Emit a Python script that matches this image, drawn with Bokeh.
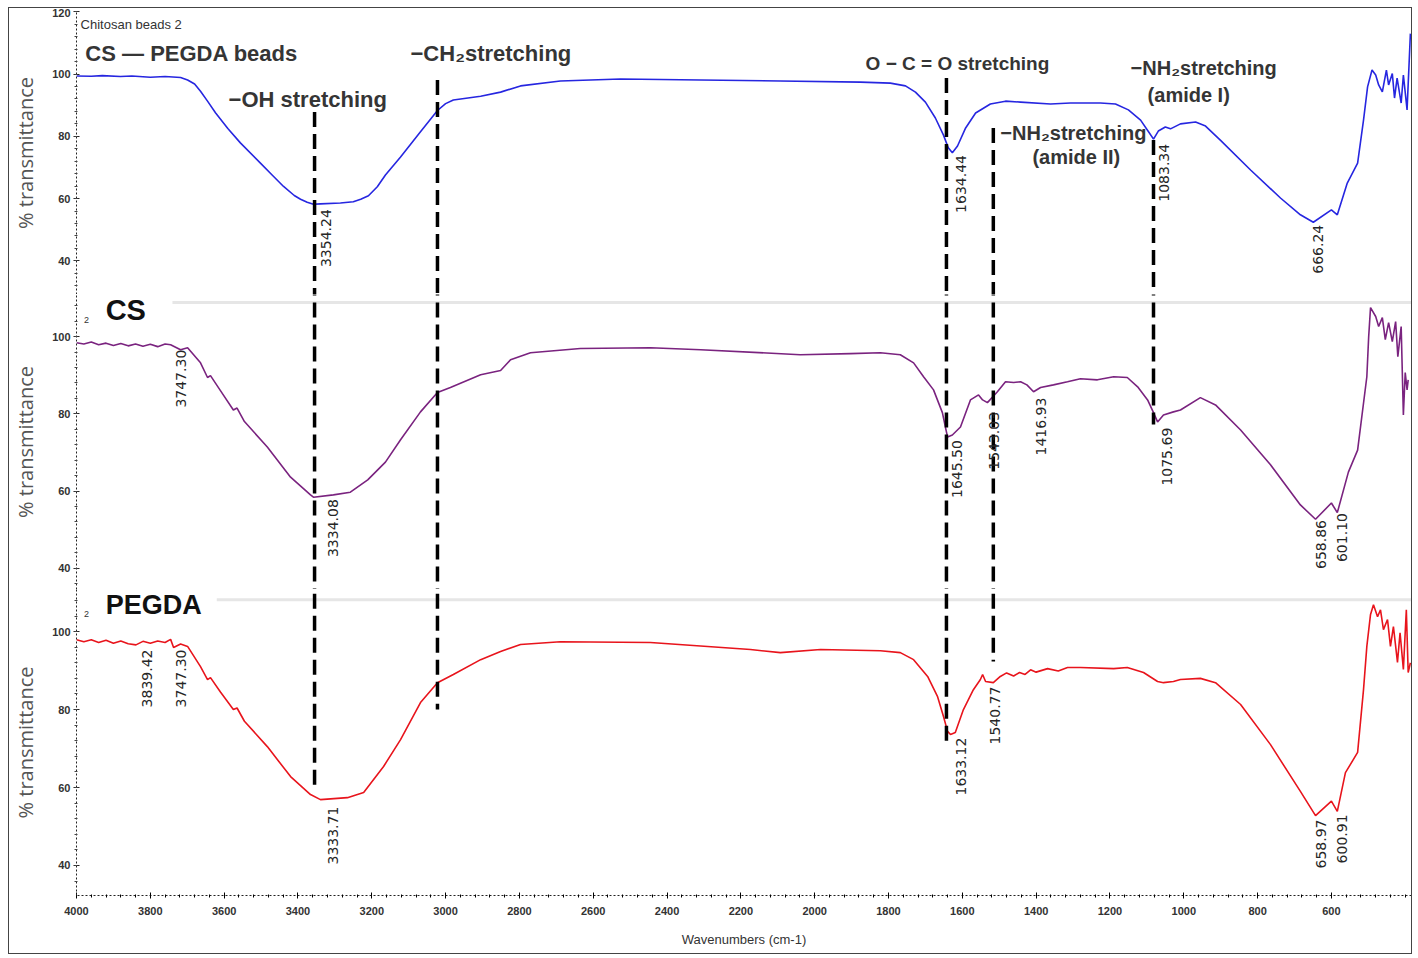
import numpy as np
from bokeh.plotting import figure
from bokeh.models import Range1d, FixedTicker, Label, ColumnDataSource
from bokeh.layouts import column
from bokeh.embed import file_html
from bokeh.resources import INLINE
from bokeh.core.properties import value

# ---------------- data ----------------
# CS - PEGDA beads (top, blue)
cs_pegda_wn = [4000, 3960, 3930, 3881, 3850, 3800, 3760, 3718, 3699, 3680, 3664, 3645, 3623, 3590, 3556,
               3501, 3470, 3439, 3410, 3393, 3375, 3358, 3339, 3285, 3250, 3230, 3209, 3185, 3163, 3122,
               3068, 3022, 3000, 2979, 2905, 2851, 2797, 2689, 2526, 2309, 2093, 1876, 1795, 1754, 1727,
               1700, 1673, 1651, 1638, 1627, 1613, 1591, 1564, 1524, 1483, 1442, 1361, 1307, 1226, 1185,
               1150, 1117, 1095, 1082, 1069, 1050, 1036, 1009, 968, 941, 901, 819, 738, 684, 649,
               600, 584, 557, 529, 513, 502, 490, 480, 472, 462, 451, 445, 435, 429, 422,
               411, 405, 395, 386]
cs_pegda_t = [99.4, 99.3, 99.5, 99.2, 99.4, 99.0, 99.2, 98.9, 98.1, 96.8, 94.5, 91.3, 87.5, 82.5, 77.9,
              71.3, 67.6, 63.9, 61.0, 59.8, 58.8, 58.2, 58.3, 58.6, 59.0, 59.8, 60.9, 63.8, 67.6, 73.4,
              81.5, 88.3, 90.5, 91.7, 92.9, 94.2, 96.2, 97.8, 98.4, 98.1, 97.8, 97.4, 97.1, 96.2, 94.2,
              91.0, 85.9, 80.4, 76.3, 74.7, 76.9, 82.7, 87.5, 90.4, 91.3, 91.0, 90.4, 90.7, 90.7, 90.4,
              88.5, 85.2, 81.4, 79.1, 81.7, 83.0, 82.4, 84.0, 84.6, 83.3, 78.8, 69.2, 60.2, 54.8, 52.4,
              56.4, 54.8, 65.0, 71.4, 85.2, 95.9, 101.3, 99.7, 96.5, 94.3, 101.3, 96.5, 100.2, 92.3, 98.7,
              90.7, 99.7, 88.5, 113.0]

# CS (middle, purple)
cs_wn = [4000, 3980, 3960, 3940, 3920, 3900, 3880, 3860, 3840, 3820, 3800, 3780, 3760, 3745, 3718,
         3699, 3664, 3645, 3637, 3610, 3575, 3565, 3545, 3483, 3420, 3366, 3358, 3304, 3258, 3211,
         3163, 3122, 3068, 3022, 2987, 2905, 2851, 2824, 2770, 2635, 2445, 2309, 2039, 1903, 1822,
         1768, 1732, 1705, 1678, 1654, 1646, 1640, 1627, 1605, 1578, 1556, 1545, 1532, 1505, 1483,
         1461, 1442, 1425, 1407, 1388, 1353, 1315, 1280, 1234, 1190, 1153, 1125, 1098, 1082, 1071,
         1055, 1028, 1009, 955, 914, 846, 765, 684, 643, 600, 584, 554, 529, 504, 499,
         494, 480, 472, 462, 454, 445, 435, 426, 420, 411, 405, 400, 395, 392]
cs_t = [98.4, 98.1, 98.6, 97.9, 98.3, 97.7, 98.2, 97.6, 98.1, 97.5, 98.0, 97.4, 98.1, 97.9, 96.6,
        97.1, 93.2, 89.4, 89.9, 86.0, 81.0, 81.5, 78.0, 71.4, 63.6, 59.0, 58.4, 59.0, 59.7, 62.9,
        67.5, 73.3, 80.5, 85.5, 86.8, 90.1, 91.2, 94.0, 95.8, 96.9, 97.1, 96.6, 95.3, 95.6, 95.8,
        95.3, 93.2, 89.6, 86.2, 80.3, 76.6, 74.0, 74.5, 76.6, 83.6, 84.9, 83.6, 82.9, 85.7, 88.3,
        88.1, 88.3, 87.5, 85.7, 86.8, 87.5, 88.3, 89.1, 88.8, 89.6, 89.4, 87.0, 83.6, 80.3, 77.9,
        79.7, 80.5, 81.0, 84.2, 82.3, 75.8, 66.8, 56.4, 52.7, 56.9, 54.4, 64.9, 70.6, 89.6, 100.0,
        107.5, 105.2, 102.6, 104.9, 99.2, 103.6, 98.7, 103.9, 94.8, 102.6, 79.7, 90.7, 86.2, 88.8]

# PEGDA (bottom, red)
pegda_wn = [4000, 3980, 3960, 3940, 3920, 3900, 3880, 3860, 3839, 3820, 3800, 3780, 3760, 3745, 3737,
            3718, 3699, 3664, 3645, 3637, 3610, 3575, 3565, 3545, 3483, 3420, 3366, 3339, 3266, 3222,
            3168, 3122, 3068, 3022, 2979, 2905, 2851, 2797, 2689, 2445, 2174, 2093, 1984, 1822, 1768,
            1732, 1694, 1667, 1651, 1640, 1632, 1619, 1597, 1570, 1551, 1545, 1537, 1516, 1497, 1480,
            1461, 1445, 1430, 1415, 1400, 1369, 1340, 1315, 1280, 1190, 1153, 1109, 1071, 1055, 1028,
            1009, 955, 914, 846, 765, 684, 643, 600, 584, 562, 529, 513, 504, 494, 486,
            475, 467, 459, 448, 440, 432, 421, 414, 405, 397, 392, 386]
pegda_t = [97.9, 97.4, 97.9, 97.2, 97.8, 97.0, 97.6, 96.9, 96.6, 97.5, 97.0, 97.6, 97.2, 98.0, 95.9,
           96.8, 96.2, 91.0, 87.7, 88.2, 84.5, 80.0, 80.4, 77.0, 70.5, 62.8, 58.2, 56.9, 57.4, 58.7,
           65.4, 72.3, 81.8, 86.9, 89.0, 92.8, 94.9, 96.7, 97.4, 97.2, 95.4, 94.6, 95.4, 95.1, 94.6,
           92.8, 88.5, 83.3, 78.2, 74.4, 73.6, 74.1, 80.0, 85.1, 87.7, 89.0, 87.2, 86.9, 88.5, 89.4,
           88.6, 89.5, 89.0, 90.2, 89.6, 90.5, 89.9, 90.8, 90.8, 90.5, 90.8, 89.5, 87.2, 86.9, 87.2,
           87.7, 88.0, 86.9, 81.3, 71.0, 59.0, 52.8, 56.5, 53.9, 63.8, 69.0, 85.1, 96.2, 104.4, 106.9,
           103.8, 105.6, 100.5, 103.1, 96.2, 101.3, 92.1, 99.7, 90.3, 105.6, 89.5, 92.0]

# peak labels (text) and the transmittance at which each label starts
cs_pegda_peaks = ["3354.24", "1634.44", "1083.34", "666.24"]
cs_pegda_peak_t = [56.6, 74.0, 77.6, 51.6]
cs_peaks = ["3747.30", "3334.08", "1645.50", "1543.03", "1416.93", "1075.69", "658.86", "601.10"]
cs_peak_t = [96.6, 57.9, 73.2, 80.5, 84.2, 76.4, 52.5, 54.3]
pegda_peaks = ["3839.42", "3747.30", "3333.71", "1633.12", "1540.77", "658.97", "600.91"]
pegda_peak_t = [95.4, 95.4, 55.1, 72.8, 85.9, 51.8, 53.1]

# assignment markers (dashed lines)
band_wn = [3355, 3022, 1643, 1516, 1082]
band_start_top = [87.8, 98.1, 98.7, 82.7, 78.8]
band_end_mid = [0, 0, 0, 0, 77.2]
band_end_bottom = [59.5, 80.0, 72.0, 92.3]

# annotations of the top panel
annot_text = ["CS \u2014 PEGDA beads", "\u2212OH stretching", "\u2212CH\u2082stretching",
              "O \u2212 C = O stretching", "\u2212NH\u2082stretching", "(amide I)",
              "\u2212NH\u2082stretching", "(amide II)"]
annot_wn = [3976, 3588, 3095, 1862, 1144, 1098, 1497, 1410]
annot_t = [106.7, 91.7, 106.7, 103.5, 101.9, 93.3, 81.1, 73.4]
annot_size = ["22px", "22px", "22px", "19px", "20px", "20px", "20px", "20px"]

x_ticks = list(range(600, 4001, 200))
y_ticks = [40, 60, 80, 100, 120]

COLORS = ["#2626e0", "#7a237f", "#e8141c"]
TXT = "#353535"
NARROW = "Liberation Sans Narrow, Liberation Sans, sans-serif"

xr = Range1d(4000, 383)


def panel(height, yr, top_border, bottom_border, show_x):
    p = figure(width=1402, height=height, x_range=xr, y_range=yr,
               output_backend="svg", toolbar_location=None,
               min_border_left=67, min_border_right=0,
               min_border_top=top_border, min_border_bottom=bottom_border,
               x_axis_location="below" if show_x else None,
               outline_line_color=None, background_fill_color="white",
               border_fill_color="white")
    p.xgrid.visible = False
    p.ygrid.visible = False
    ax = p.yaxis[0]
    ax.ticker = FixedTicker(ticks=y_ticks, minor_ticks=list(range(28, 121, 4)))
    ax.axis_label = "% transmittance"
    ax.axis_label_text_font = "Open Sans"
    ax.axis_label_text_font_size = "20px"
    ax.axis_label_text_font_style = "normal"
    ax.axis_label_text_color = "#555555"
    ax.axis_label_standoff = 10
    ax.major_label_text_font = NARROW
    ax.major_label_text_font_size = "11px"
    ax.major_label_text_font_style = "bold"
    ax.major_label_text_color = "#333333"
    ax.major_label_standoff = 3
    ax.major_tick_in = 3
    ax.major_tick_out = 3
    ax.minor_tick_in = 1
    ax.minor_tick_out = 2
    ax.axis_line_dash = "2 2"
    ax.axis_line_color = "#222222"
    ax.major_tick_line_color = "#222222"
    ax.minor_tick_line_color = "#444444"
    if show_x:
        xa = p.xaxis[0]
        xa.ticker = FixedTicker(ticks=x_ticks, minor_ticks=list(range(400, 4001, 40)))
        xa.axis_label = "Wavenumbers (cm-1)"
        xa.axis_label_text_font = NARROW
        xa.axis_label_text_font_size = "13px"
        xa.axis_label_text_font_style = "normal"
        xa.axis_label_text_color = "#333333"
        xa.axis_label_standoff = 14
        xa.major_label_text_font = NARROW
        xa.major_label_text_font_size = "11px"
        xa.major_label_text_font_style = "bold"
        xa.major_label_text_color = "#333333"
        xa.major_label_standoff = 8
        xa.major_tick_in = 3
        xa.major_tick_out = 3
        xa.minor_tick_in = 1
        xa.minor_tick_out = 2
        xa.axis_line_dash = "2 2"
        xa.axis_line_color = "#222222"
    return p


def peak_labels(p, labels, tvals):
    src = ColumnDataSource(dict(x=[float(s) for s in labels], y=tvals, t=labels))
    p.text(x="x", y="y", text="t", source=src, angle=np.pi / 2,
           text_align="right", text_baseline="middle", x_offset=11,
           text_font=value("DejaVu Sans"), text_font_size="14px", text_color="#262626")


def dashes(p, xs, y0s, y1s):
    p.segment(x0=xs, y0=y0s, x1=xs, y1=y1s, line_color="black",
              line_width=3.5, line_dash="15 7")


def label(p, x, y, text, size, color=TXT, font="Liberation Sans", style="bold"):
    p.add_layout(Label(x=x, y=y, text=text, text_font=font, text_font_size=size,
                       text_font_style=style, text_color=color,
                       text_baseline="middle", text_align="left"))


# ---------------- top panel ----------------
p1 = panel(286, Range1d(29.2, 120.1), 3, 0, False)
p1.line(cs_pegda_wn, cs_pegda_t, line_color=COLORS[0], line_width=1.6)
dashes(p1, band_wn, band_start_top, [0] * len(band_wn))
peak_labels(p1, cs_pegda_peaks, cs_pegda_peak_t)
label(p1, 3989, 116.0, "Chitosan beads 2", "13px", "#333333", NARROW, "normal")
for t, x, y, s in zip(annot_text, annot_wn, annot_t, annot_size):
    label(p1, x, y, t, s)

# ---------------- middle panel ----------------
p2 = panel(295, Range1d(34.5, 110.9), 0, 0, False)
p2.segment(x0=[3740], y0=[108.8], x1=[383], y1=[108.8], line_color="#e6e6e6", line_width=3)
p2.line(cs_wn, cs_t, line_color=COLORS[1], line_width=1.6)
dashes(p2, band_wn, [200] * len(band_wn), band_end_mid)
peak_labels(p2, cs_peaks, cs_peak_t)
label(p2, 3921, 106.8, "CS", "29px", "#111111")
label(p2, 3980, 104.4, "2", "9px", "#333333", "Liberation Sans", "normal")

# ---------------- bottom panel ----------------
p3 = panel(364, Range1d(32.3, 110.8), 0, 58, True)
p3.segment(x0=[3620], y0=[108.2], x1=[383], y1=[108.2], line_color="#e6e6e6", line_width=3)
p3.line(pegda_wn, pegda_t, line_color=COLORS[2], line_width=1.6)
dashes(p3, band_wn[:4], [200] * 4, band_end_bottom)
peak_labels(p3, pegda_peaks, pegda_peak_t)
label(p3, 3921, 106.9, "PEGDA", "27px", "#111111")
label(p3, 3980, 104.6, "2", "9px", "#333333", "Liberation Sans", "normal")

layout = column(p1, p2, p3, styles={"border": "1px solid #444444",
                                    "margin-left": "8px", "margin-top": "7px"})

open("out.html", "w").write(file_html(layout, INLINE))
